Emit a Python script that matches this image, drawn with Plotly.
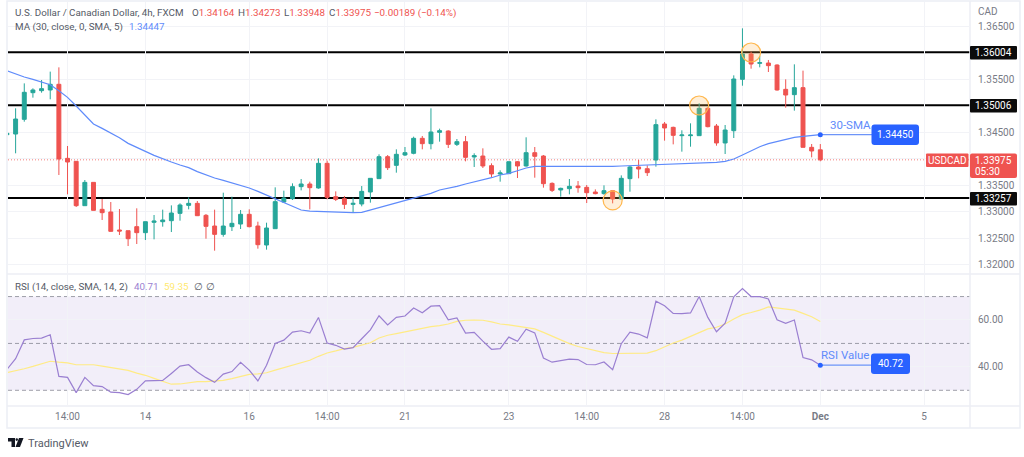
import plotly.graph_objects as go
from plotly.subplots import make_subplots

W, H = 1024, 457
FONT = "Roboto"
GREY = "#787b86"
TEXT = "#555a66"
GRID = "#f2f3f7"
FRAME = "#eceef5"
UP = "#26a69a"
DOWN = "#ef5350"
BLUE = "#2962ff"

opens = [1.34450, 1.34462, 1.34739, 1.35242, 1.35280, 1.35293, 1.35400, 1.34003, 1.33947, 1.33110,
         1.33550, 1.33041, 1.32991, 1.32651, 1.32638, 1.32714, 1.32601, 1.32796, 1.32808, 1.32827,
         1.32965, 1.33116, 1.33154, 1.32928, 1.32726, 1.32569, 1.32714, 1.32764, 1.32947, 1.32726,
         1.32368, 1.32676, 1.33179, 1.33242, 1.33469, 1.33519, 1.33444, 1.33909, 1.33280, 1.33242,
         1.33135, 1.33142, 1.33368, 1.33620, 1.34035, 1.33871, 1.34066, 1.34098, 1.34381, 1.34280,
         1.34494, 1.34519, 1.34267, 1.34318, 1.34029, 1.34047, 1.33865, 1.33708, 1.33714, 1.33940,
         1.33859, 1.34110, 1.34047, 1.33531, 1.33406, 1.33431, 1.33481, 1.33456, 1.33368, 1.33337,
         1.33393, 1.33236, 1.33620, 1.33840, 1.33808, 1.33972, 1.34651, 1.34588, 1.34431, 1.34431,
         1.34431, 1.34947, 1.34613, 1.34293, 1.34525, 1.35494, 1.35972, 1.35796, 1.35802, 1.35764,
         1.35305, 1.35205, 1.35337, 1.34211, 1.34164]
highs = [1.34506, 1.34947, 1.35418, 1.35324, 1.35481, 1.35639, 1.35720, 1.34236, 1.33947, 1.33594,
         1.33550, 1.33236, 1.33179, 1.33047, 1.32638, 1.33060, 1.32808, 1.32934, 1.33035, 1.33116,
         1.33154, 1.33267, 1.33198, 1.32953, 1.33035, 1.33355, 1.33280, 1.33028, 1.33041, 1.32808,
         1.32789, 1.33456, 1.33393, 1.33531, 1.33613, 1.33563, 1.34003, 1.33959, 1.33380, 1.33292,
         1.33261, 1.33481, 1.33626, 1.34079, 1.34066, 1.34173, 1.34217, 1.34412, 1.34425, 1.34947,
         1.34563, 1.34532, 1.34368, 1.34425, 1.34098, 1.34192, 1.33909, 1.33777, 1.33940, 1.33953,
         1.34400, 1.34217, 1.34066, 1.33550, 1.33450, 1.33613, 1.33575, 1.33500, 1.33418, 1.33494,
         1.33406, 1.33682, 1.33859, 1.33972, 1.33871, 1.34739, 1.34689, 1.34601, 1.34532, 1.34664,
         1.35041, 1.34966, 1.34651, 1.34632, 1.35569, 1.36456, 1.36016, 1.35934, 1.35859, 1.35777,
         1.35494, 1.35777, 1.35658, 1.34274, 1.34273]
lows = [1.34412, 1.34098, 1.34695, 1.35148, 1.35242, 1.35117, 1.33689, 1.33324, 1.33085, 1.33110,
        1.33022, 1.32840, 1.32620, 1.32557, 1.32349, 1.32387, 1.32462, 1.32475, 1.32714, 1.32613,
        1.32827, 1.33041, 1.32915, 1.32487, 1.32261, 1.32525, 1.32632, 1.32670, 1.32701, 1.32299,
        1.32280, 1.32676, 1.33167, 1.33217, 1.33399, 1.33041, 1.33431, 1.33229, 1.33198, 1.33047,
        1.32991, 1.33098, 1.33167, 1.33620, 1.33783, 1.33733, 1.34047, 1.34079, 1.34173, 1.34173,
        1.34318, 1.34198, 1.34236, 1.33947, 1.33840, 1.33821, 1.33651, 1.33563, 1.33708, 1.33632,
        1.33846, 1.33638, 1.33450, 1.33368, 1.33280, 1.33324, 1.33355, 1.33160, 1.33324, 1.33318,
        1.33154, 1.33229, 1.33374, 1.33626, 1.33670, 1.33846, 1.34337, 1.34267, 1.34129, 1.34223,
        1.34431, 1.34588, 1.34242, 1.34085, 1.34387, 1.35374, 1.35695, 1.35720, 1.35632, 1.35280,
        1.34959, 1.34903, 1.34211, 1.34022, 1.33948]
closes = [1.34475, 1.34745, 1.35249, 1.35293, 1.35318, 1.35400, 1.33991, 1.33934, 1.33110, 1.33550,
          1.33022, 1.32978, 1.32626, 1.32632, 1.32487, 1.32601, 1.32808, 1.32821, 1.32840, 1.32972,
          1.33123, 1.33154, 1.32921, 1.32720, 1.32569, 1.32726, 1.32777, 1.32947, 1.32714, 1.32374,
          1.32689, 1.33186, 1.33255, 1.33469, 1.33519, 1.33450, 1.33909, 1.33267, 1.33229, 1.33135,
          1.33154, 1.33380, 1.33626, 1.34035, 1.33827, 1.34079, 1.34110, 1.34381, 1.34280, 1.34500,
          1.34525, 1.34267, 1.34318, 1.34022, 1.34054, 1.33859, 1.33708, 1.33727, 1.33940, 1.33859,
          1.34110, 1.34041, 1.33525, 1.33399, 1.33437, 1.33475, 1.33450, 1.33355, 1.33337, 1.33393,
          1.33236, 1.33626, 1.33840, 1.33802, 1.33733, 1.34639, 1.34576, 1.34437, 1.34444, 1.34444,
          1.34947, 1.34601, 1.34293, 1.34538, 1.35500, 1.35972, 1.35783, 1.35808, 1.35752, 1.35293,
          1.35198, 1.35337, 1.34211, 1.34142, 1.33975]
sma30 = [1.35658, 1.35595, 1.35538, 1.35494, 1.35450, 1.35393, 1.35280, 1.35154, 1.34991, 1.34821,
         1.34651, 1.34569, 1.34488, 1.34393, 1.34286, 1.34205, 1.34135, 1.34060, 1.33991, 1.33934,
         1.33877, 1.33827, 1.33752, 1.33689, 1.33632, 1.33588, 1.33544, 1.33494, 1.33444, 1.33380,
         1.33311, 1.33236, 1.33167, 1.33098, 1.33028, 1.33009, 1.33003, 1.32984, 1.32978, 1.32978,
         1.32978, 1.32984, 1.33028, 1.33079, 1.33123, 1.33173, 1.33217, 1.33248, 1.33299, 1.33343,
         1.33406, 1.33437, 1.33475, 1.33519, 1.33557, 1.33594, 1.33638, 1.33689, 1.33720, 1.33770,
         1.33821, 1.33852, 1.33852, 1.33852, 1.33852, 1.33852, 1.33840, 1.33840, 1.33840, 1.33846,
         1.33852, 1.33859, 1.33865, 1.33865, 1.33871, 1.33884, 1.33896, 1.33896, 1.33903, 1.33909,
         1.33915, 1.33921, 1.33928, 1.33947, 1.33991, 1.34066, 1.34142, 1.34223, 1.34280, 1.34318,
         1.34356, 1.34400, 1.34419, 1.34437, 1.34450]
rsi = [38.9, 43.5, 51.5, 52.1, 52.3, 53.7, 35.9, 35.5, 29.0, 35.5, 32.0, 31.6, 29.2, 29.0, 28.2, 30.4,
       34.0, 34.1, 34.2, 37.2, 40.3, 40.9, 37.8, 35.4, 33.4, 36.9, 38.0, 41.9, 38.6, 34.0, 40.7, 50.0,
       51.4, 54.8, 55.4, 54.4, 61.1, 50.2, 49.2, 47.6, 48.2, 52.0, 55.8, 61.8, 57.9, 61.1, 61.7, 65.1,
       63.1, 65.9, 66.1, 60.1, 60.9, 54.4, 54.7, 51.0, 47.5, 47.8, 52.7, 50.9, 56.1, 54.5, 43.8, 42.0,
       42.7, 43.3, 43.1, 41.0, 40.9, 42.1, 38.8, 49.9, 54.8, 54.0, 52.4, 68.0, 66.1, 62.8, 62.7, 63.0,
       70.0, 61.1, 55.0, 58.6, 69.9, 73.4, 70.0, 70.0, 69.0, 60.1, 58.6, 60.0, 44.0, 43.0, 40.71]
rsi_sma = [37.6, 38.3, 39.2, 40.2, 41.4, 42.4, 42.0, 41.7, 40.9, 41.0, 40.9, 40.3, 39.7, 39.0, 38.5, 37.3,
           36.4, 35.1, 34.0, 32.6, 32.7, 33.1, 33.7, 33.7, 34.0, 34.2, 35.0, 36.0, 36.8, 37.0, 37.5, 38.6,
           39.6, 40.7, 41.7, 42.8, 44.5, 45.9, 46.8, 47.8, 48.3, 49.2, 50.3, 52.3, 53.5, 54.2, 55.0, 55.9,
           56.4, 57.2, 57.6, 58.3, 59.4, 59.9, 60.0, 59.9, 59.2, 58.3, 57.9, 57.3, 56.9, 56.2, 54.7, 53.0,
           51.3, 49.9, 48.7, 47.8, 46.8, 46.1, 45.7, 45.8, 45.9, 46.1, 45.9, 46.9, 48.6, 50.2, 51.4, 53.0,
           54.7, 56.2, 56.9, 58.3, 60.4, 62.3, 63.2, 64.2, 65.6, 65.1, 64.5, 64.2, 62.8, 61.4, 59.35]

bars = list(range(len(closes)))
x_ticks = [7, 16, 28, 37, 46, 58, 67, 76, 85, 94, 106]
x_labels = ["14:00", "14", "16", "14:00", "21", "23", "14:00", "28", "14:00", "<b>Dec</b>", "5"]
price_ticks = [1.365, 1.355, 1.345, 1.34, 1.335, 1.33, 1.325, 1.32]
price_labels = ["1.36500", "1.35500", "1.34500", "", "1.33500", "1.33000", "1.32500", "1.32000"]
levels = [1.36004, 1.35006, 1.33257]
level_labels = ["1.36004", "1.35006", "1.33257"]
touch_bars = [80, 86, 70]
touch_prices = [1.3500, 1.3600, 1.3321]
last_price = 1.33975
sma_callout = 1.34450
rsi_callout = 40.72
callout_bar = 100


def px(x, y):
    return f"{x / W:.5f},{1 - y / H:.5f}"


def round_box(x0, y0, x1, y1, color, r=3, layer="above"):
    path = (f"M {px(x0 + r, y0)} L {px(x1 - r, y0)} Q {px(x1, y0)} {px(x1, y0 + r)} "
            f"L {px(x1, y1 - r)} Q {px(x1, y1)} {px(x1 - r, y1)} L {px(x0 + r, y1)} "
            f"Q {px(x0, y1)} {px(x0, y1 - r)} L {px(x0, y0 + r)} Q {px(x0, y0)} {px(x0 + r, y0)} Z")
    return dict(type="path", xref="paper", yref="paper", path=path, fillcolor=color,
                line_width=0, layer=layer)


def label(x, y, text, size=10, color=GREY, anchor="left"):
    return dict(xref="paper", yref="paper", x=x / W, y=1 - y / H, text=text, showarrow=False,
                xanchor=anchor, yanchor="middle", align="left", borderpad=0, xshift=0,
                font=dict(family=FONT, size=size, color=color))


fig = make_subplots(rows=2, cols=1, shared_xaxes=True, vertical_spacing=0)

fig.add_trace(go.Candlestick(x=bars, open=opens, high=highs, low=lows, close=closes,
                             increasing=dict(line=dict(color=UP, width=1), fillcolor=UP),
                             decreasing=dict(line=dict(color=DOWN, width=1), fillcolor=DOWN),
                             whiskerwidth=0), row=1, col=1)
fig.add_trace(go.Scatter(x=bars, y=sma30, mode="lines", line=dict(color="#5f8bfb", width=1.2)), row=1, col=1)
fig.add_trace(go.Scatter(x=touch_bars, y=touch_prices, mode="markers",
                         marker=dict(size=19, color="rgba(255,183,77,0.22)",
                                     line=dict(color="#ffb74d", width=1.2))), row=1, col=1)
fig.add_trace(go.Scatter(x=[bars[-1], callout_bar], y=[sma_callout, sma_callout], mode="lines",
                         line=dict(color="#6d94f8", width=1.2)), row=1, col=1)
fig.add_trace(go.Scatter(x=[bars[-1]], y=[sma_callout], mode="markers",
                         marker=dict(size=5, color=BLUE)), row=1, col=1)

fig.add_trace(go.Scatter(x=bars, y=rsi_sma, mode="lines", line=dict(color="#ffeb85", width=1.2)), row=2, col=1)
fig.add_trace(go.Scatter(x=bars, y=rsi, mode="lines", line=dict(color="#9a7fd1", width=1.2)), row=2, col=1)
fig.add_trace(go.Scatter(x=[bars[-1], callout_bar], y=[rsi[-1], rsi_callout], mode="lines",
                         line=dict(color="#6d94f8", width=1.2)), row=2, col=1)
fig.add_trace(go.Scatter(x=[bars[-1]], y=[rsi[-1]], mode="markers",
                         marker=dict(size=5, color=BLUE)), row=2, col=1)

shapes = []
for level in levels:
    shapes.append(dict(type="line", xref="x domain", yref="y", x0=0, x1=1, y0=level, y1=level,
                       line=dict(color="black", width=2), layer="below"))
shapes.append(dict(type="line", xref="x domain", yref="y", x0=0, x1=1, y0=last_price, y1=last_price,
                   line=dict(color=DOWN, width=1, dash="1px,2px"), opacity=0.75, layer="below"))
shapes.append(dict(type="rect", xref="x2 domain", yref="y2", x0=0, x1=1, y0=30, y1=70,
                   fillcolor="rgba(126,87,194,0.1)", line_width=0, layer="below"))
for bound in [70, 50, 30]:
    shapes.append(dict(type="line", xref="x2 domain", yref="y2", x0=0, x1=1, y0=bound, y1=bound,
                       line=dict(color=GREY, width=1, dash="4px,3px"), opacity=0.7, layer="below"))

# chart frame and panel separators
shapes.append(dict(type="rect", xref="paper", yref="paper", x0=7 / W, x1=1020 / W, y0=1 - 428 / H,
                   y1=1 - 1 / H, line=dict(color=FRAME, width=1.5), layer="below"))
for y in [274, 406]:
    shapes.append(dict(type="line", xref="paper", yref="paper", x0=7 / W, x1=1020 / W, y0=1 - y / H,
                       y1=1 - y / H, line=dict(color=FRAME, width=1.5), layer="below"))
shapes.append(dict(type="line", xref="paper", yref="paper", x0=970 / W, x1=970 / W, y0=1 - 428 / H,
                   y1=1 - 1 / H, line=dict(color=FRAME, width=1.5), layer="below"))

# price tags
for top in [46, 99, 192]:
    shapes.append(round_box(970, top, 1017, top + 13.5, "#0b0b0b", r=1))
shapes.append(round_box(970, 153.5, 1017, 178, DOWN, r=2))
shapes.append(round_box(926, 153.5, 968.5, 167, DOWN, r=1))
shapes.append(round_box(871.5, 124.5, 919, 145, BLUE, r=3))
shapes.append(round_box(871, 353.5, 910, 374, BLUE, r=3))

# TradingView logo
shapes.append(dict(type="path", xref="paper", yref="paper", fillcolor="#131722", line_width=0,
                   path=f"M {px(8, 438)} L {px(15, 438)} L {px(15, 447)} L {px(11.5, 447)} "
                        f"L {px(11.5, 441.5)} L {px(8, 441.5)} Z"))
shapes.append(dict(type="path", xref="paper", yref="paper", fillcolor="#131722", line_width=0,
                   path=f"M {px(19, 438)} L {px(23.5, 438)} L {px(20, 447)} L {px(15.5, 447)} Z"))
shapes.append(dict(type="circle", xref="paper", yref="paper", fillcolor="#131722", line_width=0,
                   x0=15.5 / W, x1=18 / W, y0=1 - 441 / H, y1=1 - 438.2 / H))

red = f'<span style="color:{DOWN}">'
annotations = [
    label(14, 12.5, "U.S. Dollar / Canadian Dollar, 4h, FXCM", size=9.8, color=TEXT),
    label(191, 12.5, f"O{red}1.34164</span>", size=9.8, color=TEXT),
    label(237, 12.5, f"H{red}1.34273</span>", size=9.8, color=TEXT),
    label(283, 12.5, f"L{red}1.33948</span>", size=9.8, color=TEXT),
    label(328, 12.5, f"C{red}1.33975</span>", size=9.8, color=TEXT),
    label(373, 12.5, "\u22120.00189 (\u22120.14%)", size=9.8, color=DOWN),
    label(14, 26.5, "MA (30, close, 0, SMA, 5)", size=9.8, color=TEXT),
    label(128, 26.5, "1.34447", size=9.8, color="#5f8bfb"),
    label(14, 286.5, "RSI (14, close, SMA, 14, 2)", size=9.8, color=TEXT),
    label(133, 286.5, "40.71", size=9.8, color="#9a7fd1"),
    label(163, 286.5, "59.35", size=9.8, color="#ffe970"),
    label(193, 286.5, "\u2205", color=TEXT),
    label(205, 286.5, "\u2205", color=TEXT),
    label(977, 11.5, "CAD", color=GREY),
    label(993.5, 52.7, level_labels[0], color="white", anchor="center"),
    label(993.5, 105.7, level_labels[1], color="white", anchor="center"),
    label(993.5, 198.7, level_labels[2], color="white", anchor="center"),
    label(993.5, 160, "1.33975", color="white", anchor="center"),
    label(987, 171.5, "05:30", color="white", anchor="center"),
    label(947, 160.2, "USDCAD", color="white", anchor="center"),
    label(895, 134.7, "1.34450", color="white", anchor="center"),
    label(890.5, 363.7, "40.72", color="white", anchor="center"),
    label(850, 125, "30-SMA", size=11.5, color="#5f8bfb", anchor="center"),
    label(845, 355, "RSI Value", size=11.5, color="#5f8bfb", anchor="center"),
    label(27, 443, "TradingView", size=11, color=TEXT),
]

fig.update_layout(
    width=W, height=H,
    margin=dict(l=0, r=0, t=0, b=0),
    paper_bgcolor="white",
    plot_bgcolor="white",
    showlegend=False,
    hovermode=False,
    font=dict(family=FONT, size=10, color=GREY),
    shapes=shapes,
    annotations=annotations,
    boxgap=0.35,
)
fig.update_xaxes(domain=[8 / W, 970 / W], range=[0.12, 111.3], tickvals=x_ticks, showgrid=True,
                 gridcolor=GRID, gridwidth=1, zeroline=False, showline=False, ticks="",
                 rangeslider_visible=False)
fig.update_xaxes(ticktext=x_labels, ticklabelstandoff=3, row=2, col=1)
fig.update_yaxes(side="right", zeroline=False, showline=False, gridcolor=GRID, gridwidth=1, ticks="")
fig.update_yaxes(domain=[1 - 274 / H, 1 - 2 / H], range=[1.31821, 1.36953], tickvals=price_ticks,
                 ticktext=price_labels, ticklabelstandoff=7, row=1, col=1)
fig.update_yaxes(domain=[1 - 406 / H, 1 - 275 / H], range=[23.3, 79.2], tickvals=[60, 40],
                 ticktext=["60.00", "40.00"], ticklabelstandoff=7, row=2, col=1)

# the page body has a default margin that would push the chart off its place
fig.write_html("out.html", config={"displayModeBar": False},
               post_script="document.body.style.margin = '0'; document.body.style.overflow = 'hidden';")
